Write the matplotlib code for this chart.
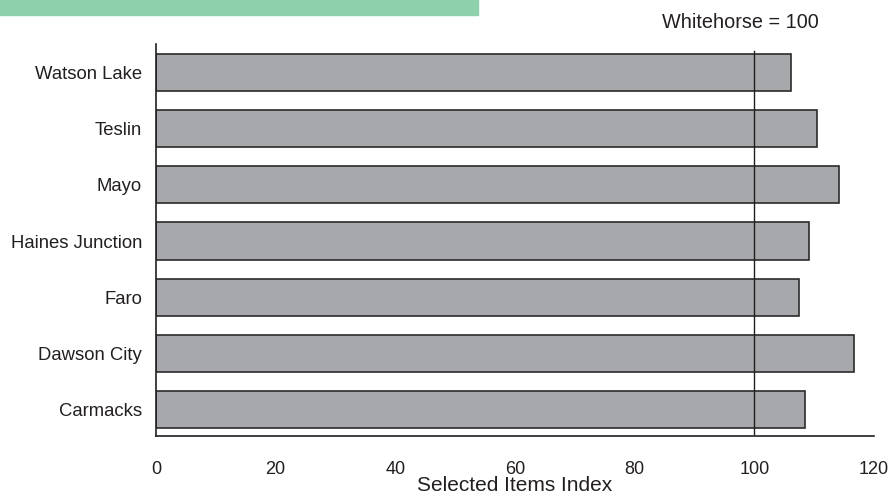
import matplotlib.pyplot as plt
from matplotlib.patches import Rectangle

plt.rcParams['font.family'] = ['Liberation Sans', 'DejaVu Sans']

communities = ["Carmacks", "Dawson City", "Faro", "Haines Junction", "Mayo", "Teslin", "Watson Lake"]
index_values = [108.4, 116.6, 107.4, 109.2, 114.1, 110.5, 106.2]
reference = 100
ref_label = "Whitehorse = 100"
x_ticks = [0, 20, 40, 60, 80, 100, 120]

text_color = "#231f20"

fig = plt.figure(figsize=(8.9, 4.97), dpi=100)
ax = fig.add_axes([156 / 890, 61 / 497, 718 / 890, 392 / 497])

# green header strip, cut off at the top of the page
fig.patches.append(Rectangle((0, 1 - 15 / 497), 478 / 890, 15 / 497,
                             transform=fig.transFigure, color="#8dd0ab", zorder=0))

ypos = list(range(len(communities)))
ax.barh(ypos, index_values, height=0.66, color="#a7a8ab",
        edgecolor="#2b2b2b", linewidth=1.2, zorder=2)
ax.axvline(reference, ymin=0.006, ymax=0.982, color="#231f20", linewidth=1.0, zorder=3)

ax.set_xlim(0, 120)
ax.set_ylim(-0.47, len(communities) - 1 + 0.507)
ax.set_yticks(ypos)
ax.set_yticklabels(communities)
ax.set_xticks(x_ticks)
ax.tick_params(axis="both", length=0, colors=text_color)
ax.tick_params(axis="y", pad=10, labelsize=13.3)
ax.tick_params(axis="x", pad=18, labelsize=13)
ax.set_xlabel("Selected Items Index", fontsize=15, color=text_color, va="baseline")
ax.xaxis.set_label_coords(0.5, -0.141)

for side in ["top", "right"]:
    ax.spines[side].set_visible(False)
for side in ["left", "bottom"]:
    ax.spines[side].set_color("#231f20")
    ax.spines[side].set_linewidth(1.2)

fig.text(740 / 890, 1 - 22 / 497, ref_label, ha="center", va="center",
         fontsize=14.3, color=text_color)

fig.savefig("out.png", dpi=100)
